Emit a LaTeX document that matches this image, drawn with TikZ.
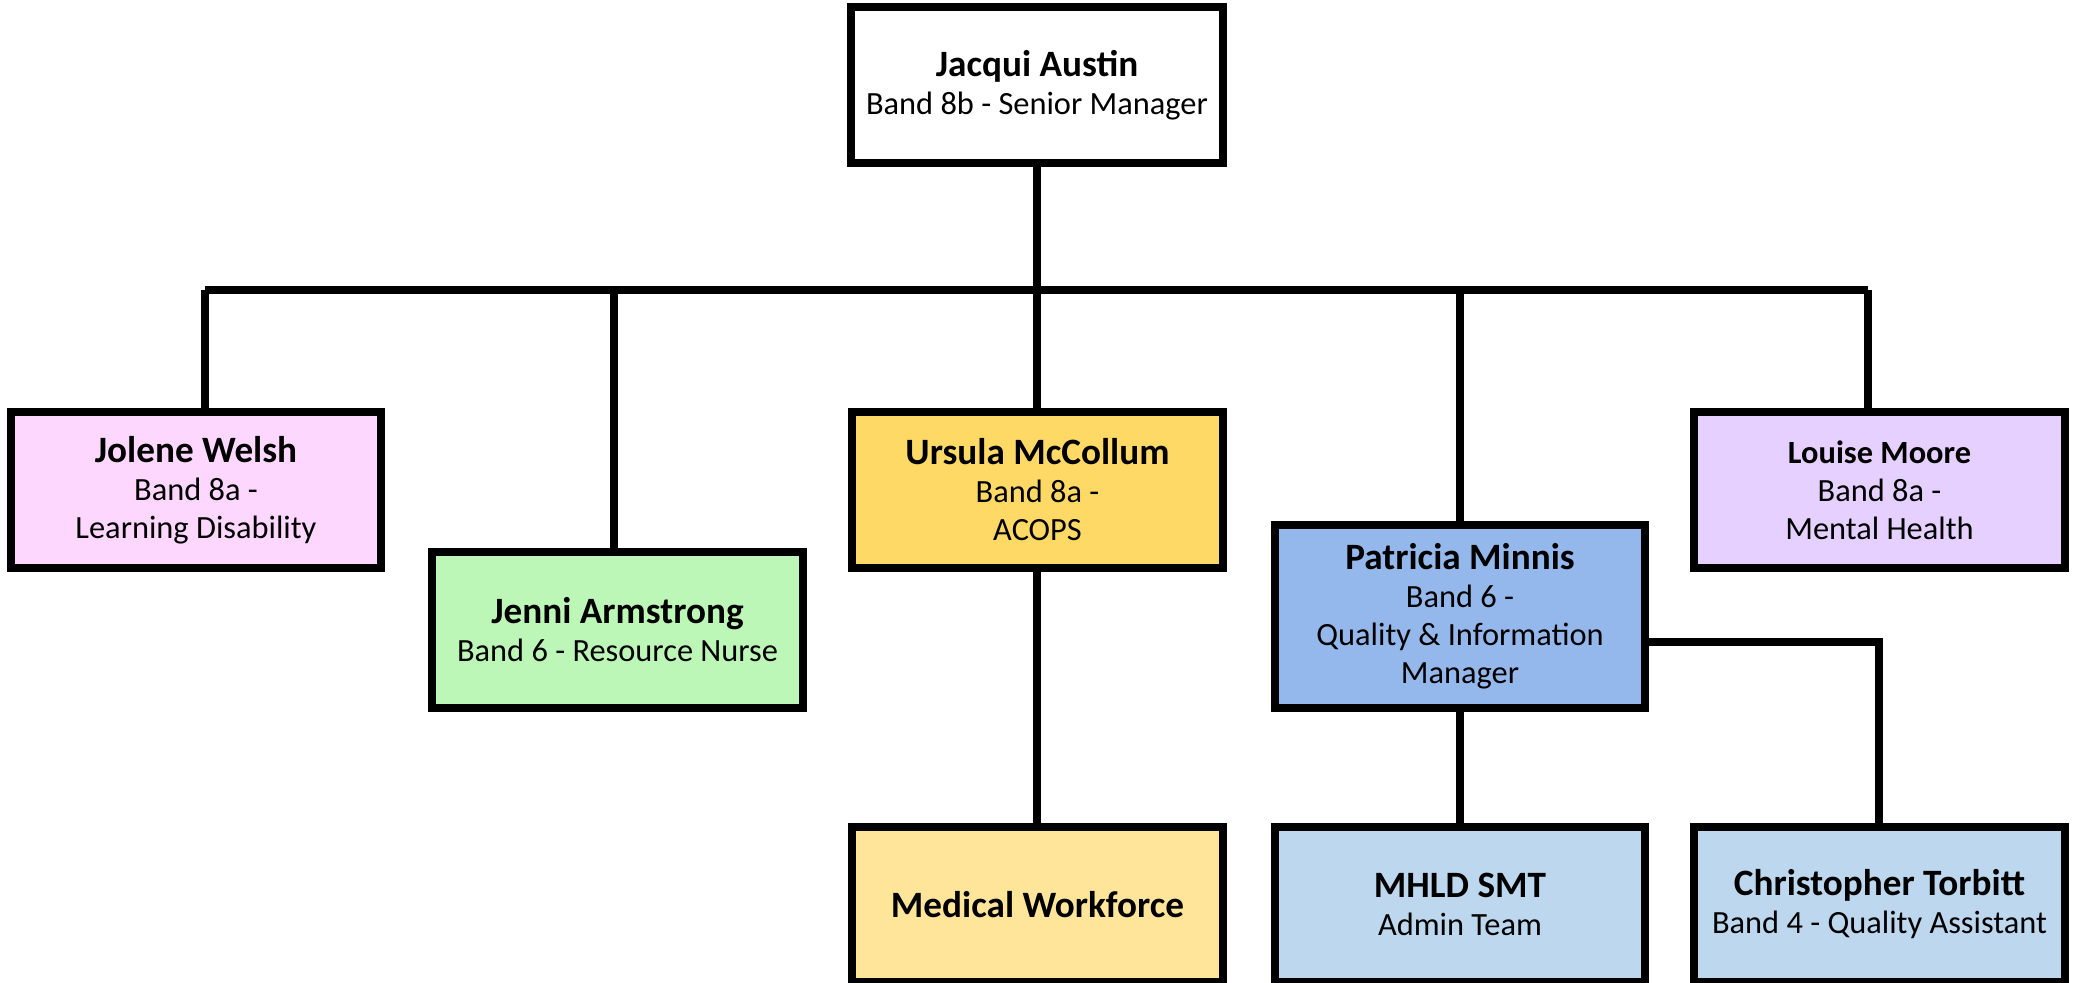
\documentclass[tikz,border=0pt]{standalone}
\usepackage{fontspec}
\setmainfont{Carlito}
\definecolor{cpink}{HTML}{FDD7FD}
\definecolor{cgreen}{HTML}{BDF7B7}
\definecolor{cyellow}{HTML}{FFD966}
\definecolor{clyellow}{HTML}{FFE599}
\definecolor{cblue}{HTML}{95B8EC}
\definecolor{clblue}{HTML}{BDD7EE}
\definecolor{clav}{HTML}{E5D0FF}
\tikzset{
  orgbox/.style={draw=black, line width=4pt, inner sep=0pt, align=center,
    font=\fontsize{16.2}{19}\selectfont, minimum width=185.5pt, minimum height=78pt},
  link/.style={draw=black, line width=4pt},
}
\newcommand{\nm}[1]{{\fontsize{18.6}{19}\selectfont\bfseries #1}}
\begin{document}
\begin{tikzpicture}[x=0.5pt,y=-0.5pt]
\useasboundingbox (0,0) rectangle (2078,982);
\node[orgbox, fill=white, minimum width=186pt] (top) at (1037,85) {\nm{Jacqui Austin}\\Band 8b - Senior Manager};
\node[orgbox, fill=cpink, minimum width=185pt] (jolene) at (196,490) {\nm{Jolene Welsh}\\Band 8a -\\Learning Disability};
\node[orgbox, fill=cgreen] (jenni) at (617.5,630) {\nm{Jenni Armstrong}\\Band 6 - Resource Nurse};
\node[orgbox, fill=cyellow] (ursula) at (1037.5,490) {\nm{Ursula McCollum}\\Band 8a -\\ACOPS};
\node[orgbox, fill=cblue, minimum width=185pt, minimum height=91.5pt] (patricia) at (1460,616.5) {\nm{Patricia Minnis}\\Band 6 -\\Quality \& Information\\Manager};
\node[orgbox, fill=clav] (louise) at (1879.5,490) {{\fontsize{16.2}{19}\selectfont\bfseries Louise Moore}\\Band 8a -\\Mental Health};
\node[orgbox, fill=clyellow, minimum height=77.5pt] (medical) at (1037.5,904.5) {\nm{Medical Workforce}};
\node[orgbox, fill=clblue, minimum width=185pt, minimum height=77.5pt] (mhld) at (1460,904.5) {\nm{MHLD SMT}\\Admin Team};
\node[orgbox, fill=clblue, minimum height=77.5pt] (chris) at (1879.5,904.5) {\nm{Christopher Torbitt}\\Band 4 - Quality Assistant};

\coordinate (bl) at (205,290);
\coordinate (bjn) at (614,290);
\coordinate (bc) at (1037,290);
\coordinate (bp) at (1460,290);
\coordinate (br) at (1868,290);
\coordinate (pc) at (1879,642);

\path[link] (bl) -- (br);
\path[link] (top.south -| bc) -- (bc |- ursula.north);
\path[link] (bl) -- (bl |- jolene.north);
\path[link] (bjn) -- (bjn |- jenni.north);
\path[link] (bp) -- (bp |- patricia.north);
\path[link] (br) -- (br |- louise.north);
\path[link] (ursula.south -| bc) -- (bc |- medical.north);
\path[link] (patricia.south) -- (mhld.north);
\path[link] (patricia.east |- pc) -- (pc) -- (pc |- chris.north);
\end{tikzpicture}
\end{document}
